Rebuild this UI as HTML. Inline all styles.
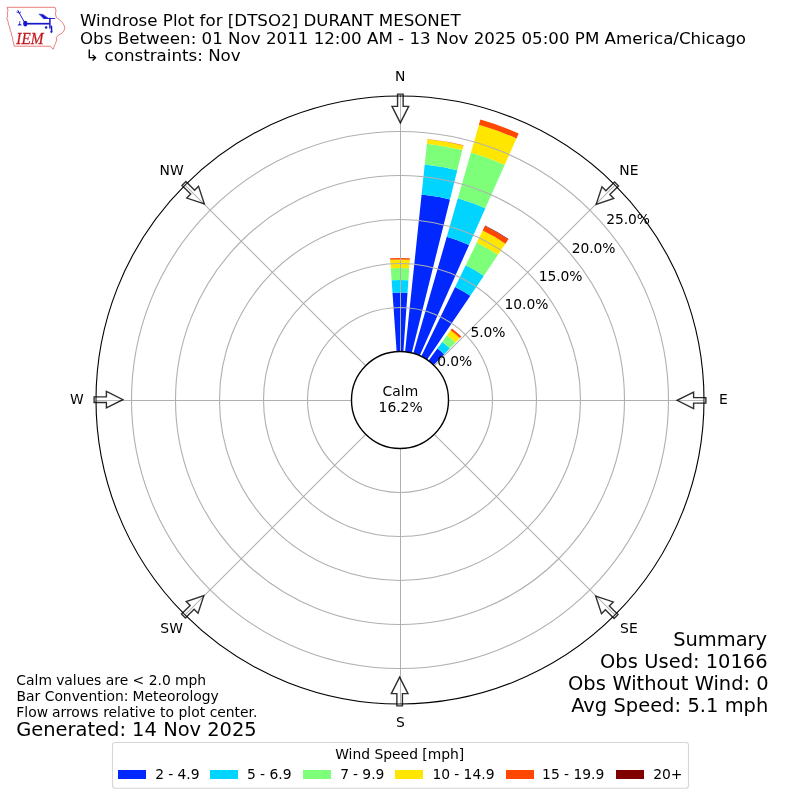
<!DOCTYPE html>
<html lang="en"><head><meta charset="utf-8"><title>Windrose Plot for [DTSO2] DURANT MESONET</title>
<style>html,body{margin:0;padding:0;background:#fff}body{width:800px;height:800px;overflow:hidden}svg text{white-space:pre}</style>
</head><body>
<svg width="800" height="800" viewBox="0 0 800 800" style="display:block">
<rect width="800" height="800" fill="#fff"/>
<g shape-rendering="geometricPrecision">
<path d="M396.69 352.62L392.51 292.86A107.40 107.40 0 0 1 407.49 292.86L403.31 352.62A47.50 47.50 0 0 0 396.69 352.62Z" fill="#0028ff"/>
<path d="M392.51 292.86L391.63 280.29A120.00 120.00 0 0 1 408.37 280.29L407.49 292.86A107.40 107.40 0 0 0 392.51 292.86Z" fill="#00d4ff"/>
<path d="M391.63 280.29L390.79 268.22A132.10 132.10 0 0 1 409.21 268.22L408.37 280.29A120.00 120.00 0 0 0 391.63 280.29Z" fill="#7dff7a"/>
<path d="M390.79 268.22L390.19 259.74A140.60 140.60 0 0 1 409.81 259.74L409.21 268.22A132.10 132.10 0 0 0 390.79 268.22Z" fill="#ffe600"/>
<path d="M390.19 259.74L390.09 258.35A142.00 142.00 0 0 1 409.91 258.35L409.81 259.74A140.60 140.60 0 0 0 390.19 259.74Z" fill="#ff4700"/>
<path d="M404.97 352.76L421.60 194.53A206.60 206.60 0 0 1 449.98 199.54L411.49 353.91A47.50 47.50 0 0 0 404.97 352.76Z" fill="#0028ff"/>
<path d="M421.60 194.53L424.74 164.60A236.70 236.70 0 0 1 457.26 170.33L449.98 199.54A206.60 206.60 0 0 0 421.60 194.53Z" fill="#00d4ff"/>
<path d="M424.74 164.60L426.93 143.81A257.60 257.60 0 0 1 462.32 150.05L457.26 170.33A236.70 236.70 0 0 0 424.74 164.60Z" fill="#7dff7a"/>
<path d="M426.93 143.81L427.40 139.34A262.10 262.10 0 0 1 463.41 145.69L462.32 150.05A257.60 257.60 0 0 0 426.93 143.81Z" fill="#ffe600"/>
<path d="M427.40 139.34L427.44 138.94A262.50 262.50 0 0 1 463.50 145.30L463.41 145.69A262.10 262.10 0 0 0 427.40 139.34Z" fill="#ff4700"/>
<path d="M413.09 354.34L446.80 236.78A169.80 169.80 0 0 1 469.06 244.88L419.32 356.61A47.50 47.50 0 0 0 413.09 354.34Z" fill="#0028ff"/>
<path d="M446.80 236.78L457.84 198.28A209.85 209.85 0 0 1 485.35 208.29L469.06 244.88A169.80 169.80 0 0 0 446.80 236.78Z" fill="#00d4ff"/>
<path d="M457.84 198.28L470.98 152.48A257.50 257.50 0 0 1 504.73 164.76L485.35 208.29A209.85 209.85 0 0 0 457.84 198.28Z" fill="#7dff7a"/>
<path d="M470.98 152.48L478.91 124.79A286.30 286.30 0 0 1 516.45 138.45L504.73 164.76A257.50 257.50 0 0 0 470.98 152.48Z" fill="#ffe600"/>
<path d="M478.91 124.79L480.43 119.50A291.80 291.80 0 0 1 518.69 133.43L516.45 138.45A286.30 286.30 0 0 0 478.91 124.79Z" fill="#ff4700"/>
<path d="M420.82 357.31L455.10 287.02A125.70 125.70 0 0 1 470.29 295.79L426.56 360.62A47.50 47.50 0 0 0 420.82 357.31Z" fill="#0028ff"/>
<path d="M455.10 287.02L465.76 265.18A150.00 150.00 0 0 1 483.88 275.64L470.29 295.79A125.70 125.70 0 0 0 455.10 287.02Z" fill="#00d4ff"/>
<path d="M465.76 265.18L476.80 242.53A175.20 175.20 0 0 1 497.97 254.75L483.88 275.64A150.00 150.00 0 0 0 465.76 265.18Z" fill="#7dff7a"/>
<path d="M476.80 242.53L482.68 230.49A188.60 188.60 0 0 1 505.46 243.64L497.97 254.75A175.20 175.20 0 0 0 476.80 242.53Z" fill="#ffe600"/>
<path d="M482.68 230.49L484.82 226.08A193.50 193.50 0 0 1 508.20 239.58L505.46 243.64A188.60 188.60 0 0 0 482.68 230.49Z" fill="#ff4700"/>
<path d="M484.82 226.08L485.09 225.54A194.10 194.10 0 0 1 508.54 239.08L508.20 239.58A193.50 193.50 0 0 0 484.82 226.08Z" fill="#800000"/>
<path d="M427.92 361.57L437.44 348.47A63.70 63.70 0 0 1 444.25 354.18L433.00 365.83A47.50 47.50 0 0 0 427.92 361.57Z" fill="#0028ff"/>
<path d="M437.44 348.47L442.20 341.91A71.80 71.80 0 0 1 449.88 348.35L444.25 354.18A63.70 63.70 0 0 0 437.44 348.47Z" fill="#00d4ff"/>
<path d="M442.20 341.91L446.96 335.36A79.90 79.90 0 0 1 455.50 342.52L449.88 348.35A71.80 71.80 0 0 0 442.20 341.91Z" fill="#7dff7a"/>
<path d="M446.96 335.36L450.61 330.34A86.10 86.10 0 0 1 459.81 338.06L455.50 342.52A79.90 79.90 0 0 0 446.96 335.36Z" fill="#ffe600"/>
<path d="M450.61 330.34L451.90 328.56A88.30 88.30 0 0 1 461.34 336.48L459.81 338.06A86.10 86.10 0 0 0 450.61 330.34Z" fill="#ff4700"/>
</g>
<g fill="none" stroke="#b0b0b0" stroke-width="1.11">
<circle cx="400.0" cy="400.0" r="92.50"/>
<circle cx="400.0" cy="400.0" r="136.50"/>
<circle cx="400.0" cy="400.0" r="180.50"/>
<circle cx="400.0" cy="400.0" r="224.50"/>
<circle cx="400.0" cy="400.0" r="268.50"/>
<path d="M400.5 96V704M96 400.5H704" stroke-width="1"/>
<path d="M434.29 365.71L614.96 185.04M434.29 434.29L614.96 614.96M365.71 434.29L185.04 614.96M365.71 365.71L185.04 185.04"/>
</g>
<circle cx="400.0" cy="400.0" r="304.0" fill="none" stroke="#000" stroke-width="1.11"/>
<circle cx="400.0" cy="400.0" r="48.5" fill="#fff" stroke="#000" stroke-width="1.39"/>
<rect x="399.9" y="95.35" width="1.2" height="1.3" fill="#000"/>
<g fill="#fff" fill-opacity="0.1" stroke="#000" stroke-opacity="0.82" stroke-width="1.39" stroke-linejoin="miter">
<polygon points="397.57,94.10 403.13,94.10 403.13,106.40 408.68,106.40 400.35,122.90 392.02,106.40 397.57,106.40"/>
<polygon points="614.59,181.98 618.52,185.91 609.82,194.61 613.74,198.53 596.19,204.31 601.96,186.75 605.89,190.68"/>
<polygon points="705.90,397.57 705.90,403.13 693.60,403.13 693.60,408.68 677.10,400.35 693.60,392.02 693.60,397.57"/>
<polygon points="618.02,614.59 614.09,618.52 605.39,609.82 601.47,613.74 595.69,596.19 613.25,601.96 609.32,605.89"/>
<polygon points="402.43,705.90 396.87,705.90 396.87,693.60 391.32,693.60 399.65,677.10 407.98,693.60 402.43,693.60"/>
<polygon points="185.41,618.02 181.48,614.09 190.18,605.39 186.26,601.47 203.81,595.69 198.04,613.25 194.11,609.32"/>
<polygon points="94.10,402.43 94.10,396.87 106.40,396.87 106.40,391.32 122.90,399.65 106.40,407.98 106.40,402.43"/>
<polygon points="181.98,185.41 185.91,181.48 194.61,190.18 198.53,186.26 204.31,203.81 186.75,198.04 190.68,194.11"/>
</g>
<rect x="112.5" y="742.5" width="576" height="45.8" rx="2.8" fill="#fff" fill-opacity="0.8" stroke="#ccc" stroke-opacity="0.8" stroke-width="1.11"/>
<rect x="118" y="770" width="28" height="9" fill="#0028ff"/>
<rect x="210" y="770" width="28" height="9" fill="#00d4ff"/>
<rect x="303" y="770" width="28" height="9" fill="#7dff7a"/>
<rect x="395" y="770" width="28" height="9" fill="#ffe600"/>
<rect x="506" y="770" width="28" height="9" fill="#ff4700"/>
<rect x="616" y="770" width="28" height="9" fill="#800000"/>
<g font-family="'DejaVu Sans', 'Liberation Sans', sans-serif" fill="#000">
<text x="400.15" y="81.2" font-size="13.89" text-anchor="middle" id="t0">N</text>
<text x="628.91" y="175.12" font-size="13.89" text-anchor="middle" id="t1">NE</text>
<text x="723.33" y="403.82" font-size="13.89" text-anchor="middle" id="t2">E</text>
<text x="628.91" y="632.55" font-size="13.89" text-anchor="middle" id="t3">SE</text>
<text x="400.31" y="727.31" font-size="13.89" text-anchor="middle" id="t4">S</text>
<text x="171.64" y="632.55" font-size="13.89" text-anchor="middle" id="t5">SW</text>
<text x="76.84" y="403.83" font-size="13.89" text-anchor="middle" id="t6">W</text>
<text x="171.58" y="175.12" font-size="13.89" text-anchor="middle" id="t7">NW</text>
<text x="437.28" y="365.99" font-size="13.89" id="t8" textLength="35.0" lengthAdjust="spacing">0.0%</text>
<text x="470.43" y="336.68" font-size="13.89" id="t9" textLength="35.0" lengthAdjust="spacing">5.0%</text>
<text x="504.52" y="309.4" font-size="13.89" id="t10" textLength="43.88" lengthAdjust="spacing">10.0%</text>
<text x="538.64" y="281.12" font-size="13.89" id="t11" textLength="43.88" lengthAdjust="spacing">15.0%</text>
<text x="571.71" y="252.85" font-size="13.89" id="t12" textLength="43.75" lengthAdjust="spacing">20.0%</text>
<text x="606.24" y="223.76" font-size="13.89" id="t13" textLength="43.75" lengthAdjust="spacing">25.0%</text>
<text x="400.29" y="396.09" font-size="13.89" text-anchor="middle" id="t14" textLength="35.75" lengthAdjust="spacing">Calm</text>
<text x="400.59" y="411.62" font-size="13.89" text-anchor="middle" id="t15" textLength="44.0" lengthAdjust="spacing">16.2%</text>
<text x="767.05" y="646.04" font-size="19.44" text-anchor="end" id="t16" textLength="93.88" lengthAdjust="spacing">Summary</text>
<text y="668.01" font-size="19.44" id="t17"><tspan x="600.01">Obs </tspan><tspan x="644.37">Used: </tspan><tspan x="705.7">10166</tspan></text>
<text y="690.0" font-size="19.44" id="t18"><tspan x="568.01">Obs </tspan><tspan x="612.4">Without </tspan><tspan x="694.63">Wind: </tspan><tspan x="756.21">0</tspan></text>
<text y="712.02" font-size="19.44" id="t19"><tspan x="571.15">Avg </tspan><tspan x="613.52">Speed: </tspan><tspan x="687.51">5.1 </tspan><tspan x="724.63">mph</tspan></text>
<text y="685.02" font-size="13.89" id="t20"><tspan x="16.37">Calm </tspan><tspan x="56.17">values </tspan><tspan x="105.75">are </tspan><tspan x="132.55">&lt; </tspan><tspan x="148.71">2.0 </tspan><tspan x="174.95">mph</tspan></text>
<text y="701.03" font-size="13.89" id="t21"><tspan x="16.56">Bar </tspan><tspan x="44.69">Convention: </tspan><tspan x="132.57">Meteorology</tspan></text>
<text y="717.01" font-size="13.89" id="t22"><tspan x="16.34">Flow </tspan><tspan x="51.95">arrows </tspan><tspan x="103.13">relative </tspan><tspan x="160.1">to </tspan><tspan x="178.53">plot </tspan><tspan x="209.67">center.</tspan></text>
<text y="736.06" font-size="19.44" id="t23"><tspan x="16.29">Generated: </tspan><tspan x="132.05">14 </tspan><tspan x="163.17">Nov </tspan><tspan x="207.22">2025</tspan></text>
<text y="758.8" font-size="13.89" id="t24"><tspan x="335.18">Wind </tspan><tspan x="374.46">Speed </tspan><tspan x="422.34">[mph]</tspan></text>
<text y="778.9" font-size="13.89" id="t25"><tspan x="155.28">2 </tspan><tspan x="168.36">- </tspan><tspan x="177.46">4.9</tspan></text>
<text y="778.9" font-size="13.89" id="t26"><tspan x="247.02">5 </tspan><tspan x="260.07">- </tspan><tspan x="269.42">6.9</tspan></text>
<text y="778.9" font-size="13.89" id="t27"><tspan x="340.16">7 </tspan><tspan x="352.97">- </tspan><tspan x="362.37">9.9</tspan></text>
<text y="778.9" font-size="13.89" id="t28"><tspan x="432.48">10 </tspan><tspan x="454.26">- </tspan><tspan x="463.61">14.9</tspan></text>
<text y="778.9" font-size="13.89" id="t29"><tspan x="542.12">15 </tspan><tspan x="564.11">- </tspan><tspan x="573.42">19.9</tspan></text>
<text x="653.2" y="778.9" font-size="13.89" id="t30" textLength="29.12" lengthAdjust="spacing">20+</text>
<text x="0" y="0" font-size="15.4" transform="translate(80 25.8) scale(1.083 1)" id="t31">Windrose Plot for [DTSO2] DURANT MESONET</text>
<text x="0" y="0" font-size="15.4" transform="translate(80 43.8) scale(1.083 1)" id="t32">Obs Between: 01 Nov 2011 12:00 AM - 13 Nov 2025 05:00 PM America/Chicago</text>
<text x="0" y="0" font-size="15.4" transform="translate(80 60.5) scale(1.083 1)" id="t33"> ↳ constraints: Nov</text>
</g>
<g id="logo">
<path d="M7.2 7.3H55L56 10.5L55.4 13.9L56.3 17.3L59.2 19.4L62.2 22.4L63.9 24.9L64.8 27.5L63.9 30.9L61.8 33.4L58.4 35.1L56.3 37.3L56.7 40.2L55.4 43.6L54.1 46.2L53.7 48.7L52.9 49.2L51.6 47.5L49.9 46.2H14.2L13.7 43L12.9 41.2L12.7 38L11.6 35.4L11.2 32.6L10.1 30L9.7 27L8.5 24.6L8 21.4L6.9 18.4L7.6 15.6L7.3 12.8L8 10.4Z" fill="none" stroke="#d62828" stroke-opacity="0.75" stroke-width="0.8" stroke-linejoin="round"/>
<g stroke="#1818cc" fill="#1818cc" stroke-linecap="round">
<path d="M25.2 23.7H49.9" stroke-width="1.7" fill="none" stroke-linecap="butt"/>
<ellipse cx="25.3" cy="23.6" rx="2.1" ry="2.9" stroke="none"/>
<path d="M25.2 23.7L17.9 10.4M18.9 12.9L16.9 12M19.2 13.4L20.7 12" stroke-width="0.95" fill="none"/>
<path d="M39.2 14.1L42.9 14.4L48.6 18.4H43.6Z" stroke-width="0.5"/>
<path d="M44 18.5H54.8" stroke-width="0.9" fill="none"/>
<path d="M49.9 17.8V28.6" stroke-width="1.5" fill="none" stroke-linecap="butt"/>
<path d="M51.5 26.2L51.6 31.2" stroke-width="1.5" fill="none"/>
<circle cx="51.4" cy="31.8" r="1.1" stroke="none"/>
<circle cx="46.1" cy="27.4" r="1.25" stroke="none"/>
<circle cx="19.7" cy="22" r="0.65" stroke="none"/>
<path d="M18.2 25L19.7 23.3L21.2 25Z" stroke-width="0.5"/>
</g>
<text transform="translate(16.3 44.3) scale(0.87 1)" font-family="'Liberation Serif', 'DejaVu Serif', serif" font-style="italic" font-size="17.6" fill="#c4161c" stroke="#c4161c" stroke-width="0.25">IEM</text>
</g>

</svg>
</body></html>
